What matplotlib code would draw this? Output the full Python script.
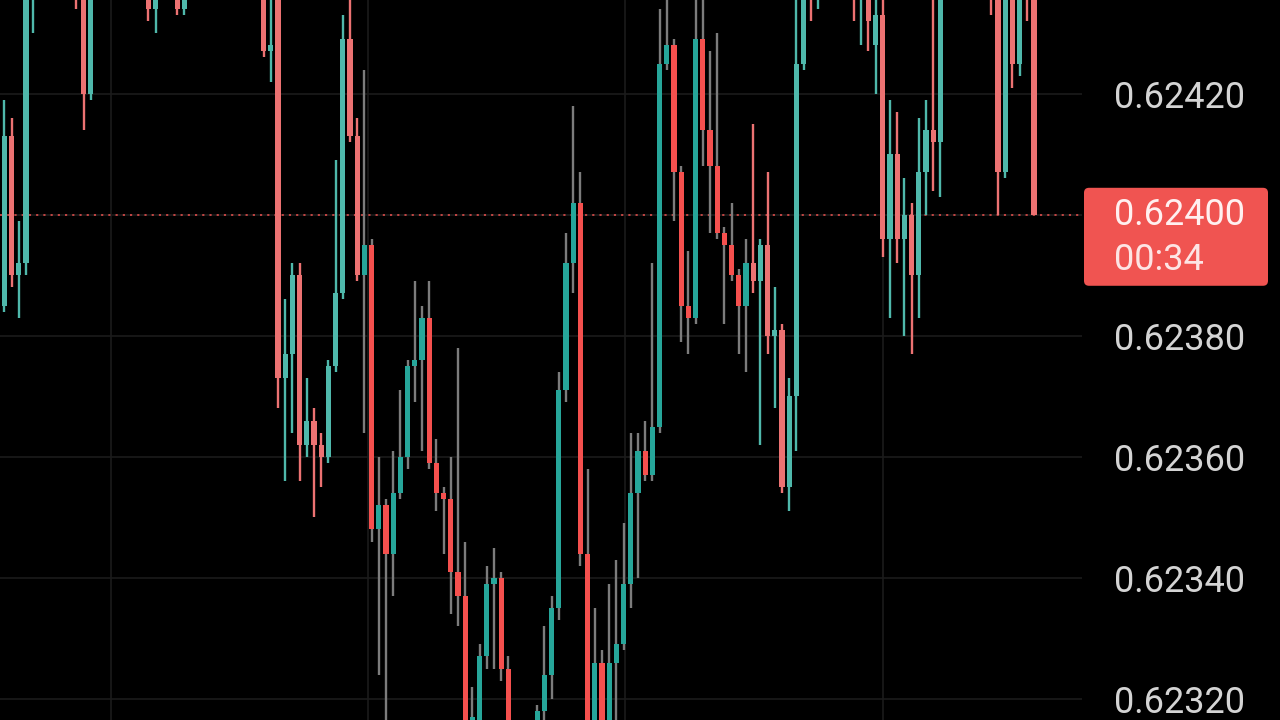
import numpy as np
import matplotlib
matplotlib.use('Agg')
import matplotlib.pyplot as plt
from matplotlib.patches import FancyBboxPatch
from matplotlib.transforms import IdentityTransform, offset_copy
from matplotlib.ticker import FixedLocator, FuncFormatter

plt.rcParams['font.family'] = ['Roboto', 'DejaVu Sans']

# OHLC of the candles (left to right)
opens = [
    0.62385, 0.62413, 0.62390, 0.62392, 0.62442, 0.62448, 0.62455, 0.62452, 0.62458, 0.62450,
    0.62444, 0.62438, 0.62420, 0.62445, 0.62452, 0.62460, 0.62456, 0.62462, 0.62455, 0.62450,
    0.62446, 0.62434, 0.62444, 0.62450, 0.62445, 0.62434, 0.62446, 0.62454, 0.62460, 0.62466,
    0.62461, 0.62467, 0.62462, 0.62456, 0.62460, 0.62452, 0.62446, 0.62427, 0.62440, 0.62373,
    0.62377, 0.62390, 0.62362, 0.62366, 0.62362, 0.62360, 0.62375, 0.62387, 0.62429, 0.62413,
    0.62390, 0.62395, 0.62348, 0.62352, 0.62344, 0.62354, 0.62360, 0.62375, 0.62376, 0.62383,
    0.62359, 0.62354, 0.62353, 0.62341, 0.62337, 0.62310, 0.62314, 0.62327, 0.62339, 0.62340,
    0.62325, 0.62305, 0.62298, 0.62303, 0.62310, 0.62318, 0.62324, 0.62335, 0.62371, 0.62392,
    0.62402, 0.62344, 0.62312, 0.62326, 0.62312, 0.62326, 0.62329, 0.62339, 0.62354, 0.62361,
    0.62357, 0.62365, 0.62425, 0.62428, 0.62407, 0.62385, 0.62383, 0.62429, 0.62414, 0.62408,
    0.62397, 0.62395, 0.62390, 0.62385, 0.62392, 0.62389, 0.62395, 0.62380, 0.62381, 0.62355,
    0.62370, 0.62425, 0.62442, 0.62436, 0.62444, 0.62451, 0.62447, 0.62453, 0.62446, 0.62438,
    0.62446, 0.62428, 0.62433, 0.62396, 0.62410, 0.62396, 0.62400, 0.62390, 0.62407, 0.62414,
    0.62412, 0.62440, 0.62447, 0.62453, 0.62449, 0.62455, 0.62450, 0.62445, 0.62438, 0.62407,
    0.62440, 0.62425, 0.62441, 0.62440,
]
highs = [
    0.62419, 0.62416, 0.62399, 0.62446, 0.62452, 0.62458, 0.62460, 0.62462, 0.62461, 0.62452,
    0.62446, 0.62440, 0.62448, 0.62455, 0.62463, 0.62465, 0.62466, 0.62464, 0.62458, 0.62452,
    0.62448, 0.62447, 0.62453, 0.62452, 0.62447, 0.62450, 0.62457, 0.62464, 0.62470, 0.62468,
    0.62471, 0.62469, 0.62464, 0.62463, 0.62462, 0.62455, 0.62448, 0.62438, 0.62446, 0.62386,
    0.62392, 0.62392, 0.62373, 0.62368, 0.62364, 0.62376, 0.62409, 0.62433, 0.62440, 0.62416,
    0.62424, 0.62396, 0.62360, 0.62353, 0.62361, 0.62371, 0.62376, 0.62389, 0.62385, 0.62389,
    0.62363, 0.62355, 0.62360, 0.62378, 0.62346, 0.62322, 0.62329, 0.62342, 0.62345, 0.62341,
    0.62327, 0.62310, 0.62308, 0.62314, 0.62319, 0.62332, 0.62337, 0.62374, 0.62397, 0.62418,
    0.62407, 0.62358, 0.62335, 0.62328, 0.62339, 0.62343, 0.62349, 0.62364, 0.62364, 0.62366,
    0.62392, 0.62434, 0.62437, 0.62429, 0.62408, 0.62394, 0.62436, 0.62438, 0.62427, 0.62430,
    0.62398, 0.62402, 0.62391, 0.62396, 0.62415, 0.62396, 0.62407, 0.62388, 0.62382, 0.62373,
    0.62437, 0.62446, 0.62445, 0.62448, 0.62455, 0.62454, 0.62456, 0.62455, 0.62448, 0.62449,
    0.62448, 0.62440, 0.62440, 0.62419, 0.62417, 0.62406, 0.62402, 0.62416, 0.62419, 0.62440,
    0.62445, 0.62450, 0.62457, 0.62456, 0.62459, 0.62457, 0.62452, 0.62447, 0.62440, 0.62444,
    0.62443, 0.62445, 0.62444, 0.62442,
]
lows = [
    0.62384, 0.62388, 0.62383, 0.62390, 0.62430, 0.62445, 0.62448, 0.62449, 0.62446, 0.62440,
    0.62434, 0.62414, 0.62419, 0.62442, 0.62449, 0.62453, 0.62452, 0.62451, 0.62446, 0.62441,
    0.62432, 0.62430, 0.62440, 0.62441, 0.62433, 0.62433, 0.62443, 0.62451, 0.62457, 0.62457,
    0.62458, 0.62458, 0.62452, 0.62452, 0.62448, 0.62442, 0.62426, 0.62422, 0.62368, 0.62356,
    0.62364, 0.62356, 0.62360, 0.62350, 0.62355, 0.62359, 0.62374, 0.62386, 0.62412, 0.62389,
    0.62364, 0.62346, 0.62324, 0.62310, 0.62337, 0.62353, 0.62358, 0.62369, 0.62361, 0.62358,
    0.62351, 0.62344, 0.62334, 0.62332, 0.62305, 0.62300, 0.62310, 0.62325, 0.62325, 0.62323,
    0.62300, 0.62293, 0.62290, 0.62298, 0.62304, 0.62312, 0.62320, 0.62333, 0.62369, 0.62387,
    0.62342, 0.62305, 0.62305, 0.62308, 0.62308, 0.62315, 0.62328, 0.62335, 0.62340, 0.62356,
    0.62356, 0.62364, 0.62424, 0.62399, 0.62379, 0.62377, 0.62382, 0.62408, 0.62397, 0.62396,
    0.62382, 0.62389, 0.62377, 0.62374, 0.62387, 0.62362, 0.62377, 0.62368, 0.62354, 0.62351,
    0.62361, 0.62424, 0.62432, 0.62434, 0.62441, 0.62443, 0.62444, 0.62442, 0.62432, 0.62428,
    0.62427, 0.62420, 0.62393, 0.62383, 0.62392, 0.62380, 0.62377, 0.62383, 0.62400, 0.62404,
    0.62403, 0.62437, 0.62444, 0.62445, 0.62446, 0.62446, 0.62440, 0.62433, 0.62400, 0.62406,
    0.62421, 0.62423, 0.62432, 0.62400,
]
closes = [
    0.62413, 0.62390, 0.62392, 0.62442, 0.62448, 0.62455, 0.62452, 0.62458, 0.62450, 0.62444,
    0.62438, 0.62420, 0.62445, 0.62452, 0.62460, 0.62456, 0.62462, 0.62455, 0.62450, 0.62446,
    0.62434, 0.62444, 0.62450, 0.62445, 0.62434, 0.62446, 0.62454, 0.62460, 0.62466, 0.62461,
    0.62467, 0.62462, 0.62456, 0.62460, 0.62452, 0.62446, 0.62427, 0.62428, 0.62373, 0.62377,
    0.62390, 0.62362, 0.62366, 0.62362, 0.62360, 0.62375, 0.62387, 0.62429, 0.62413, 0.62390,
    0.62395, 0.62348, 0.62352, 0.62344, 0.62354, 0.62360, 0.62375, 0.62376, 0.62383, 0.62359,
    0.62354, 0.62353, 0.62341, 0.62337, 0.62310, 0.62317, 0.62327, 0.62339, 0.62340, 0.62325,
    0.62305, 0.62298, 0.62303, 0.62310, 0.62318, 0.62324, 0.62335, 0.62371, 0.62392, 0.62402,
    0.62344, 0.62310, 0.62326, 0.62312, 0.62326, 0.62329, 0.62339, 0.62354, 0.62361, 0.62357,
    0.62365, 0.62425, 0.62428, 0.62407, 0.62385, 0.62383, 0.62429, 0.62414, 0.62408, 0.62397,
    0.62395, 0.62390, 0.62385, 0.62392, 0.62389, 0.62395, 0.62380, 0.62381, 0.62355, 0.62370,
    0.62425, 0.62442, 0.62436, 0.62444, 0.62451, 0.62447, 0.62453, 0.62446, 0.62438, 0.62446,
    0.62432, 0.62433, 0.62396, 0.62410, 0.62396, 0.62400, 0.62390, 0.62407, 0.62414, 0.62412,
    0.62440, 0.62447, 0.62453, 0.62449, 0.62455, 0.62450, 0.62445, 0.62438, 0.62407, 0.62440,
    0.62425, 0.62441, 0.62436, 0.62400,
]

price_ticks = [0.62320, 0.62340, 0.62360, 0.62380, 0.62400, 0.62420]
countdown = '00:34'

UP = '#26a69a'
DOWN = '#f5504e'
GHOST_UP = '#4fb8ab'
GHOST_DOWN = '#ec7272'
GRID = '#1b1b1b'
LABEL = '#d4d4d4'
FS = 26

o = np.array(opens)
h = np.array(highs)
l = np.array(lows)
c = np.array(closes)
x = np.arange(len(o))
up = c >= o

# middle of the screen is sharp with grey wicks, the edges look smeared
sharp = (x >= 50) & (x <= 103)
body_col = np.where(up, np.where(sharp, UP, GHOST_UP), np.where(sharp, DOWN, GHOST_DOWN))
wick_col = np.where(sharp, '#7c7c7c', body_col)

fig = plt.figure(figsize=(12.8, 7.2), dpi=100, facecolor='black')
ax = fig.add_axes([0, 0, 1082 / 1280, 1])
ax.set_facecolor('black')

ax.set_ylim(0.623165, 0.624355)
ax.set_xlim(-0.61, 149.67)

ax.vlines(x, l, h, colors=wick_col, linewidth=1.7, zorder=2)
ax.bar(x, np.maximum(np.abs(c - o), 2e-6), bottom=np.minimum(o, c), width=0.72,
       color=body_col, linewidth=0, zorder=3)

# last price line
last = closes[-1]
ax.axhline(last, color='#f05350', linewidth=1.3, linestyle=(0, (1.2, 2.8)), alpha=0.85, zorder=1)

# grid + right price scale (the last price label is hidden under the badge)
ax.yaxis.set_major_locator(FixedLocator(price_ticks))
ax.yaxis.set_major_formatter(FuncFormatter(lambda v, p: '' if abs(v - last) < 1e-7 else '%.5f' % v))
ax.xaxis.set_major_locator(FixedLocator([14.8, 50.5, 86.2, 122.0]))
ax.grid(True, color=GRID, linewidth=1.2, zorder=0)
ax.set_axisbelow(True)
for s in ax.spines.values():
    s.set_visible(False)
ax.tick_params(axis='x', bottom=False, labelbottom=False)
ax.yaxis.tick_right()
ax.tick_params(axis='y', length=0, pad=23, labelsize=FS, labelcolor=LABEL)

# current price badge
fig.canvas.draw()
ydisp = ax.transData.transform((0, last))[1]
x_edge = ax.transAxes.transform((1, 0))[0]
badge = FancyBboxPatch((x_edge + 2, ydisp - 71), 184, 98,
                       boxstyle='round,pad=0,rounding_size=5',
                       transform=IdentityTransform(), facecolor='#f05451',
                       edgecolor='none', zorder=5)
fig.add_artist(badge)
tr = ax.get_yaxis_transform()
tx = 1 + 32 / 1082
fig.text(tx, last, '%.5f' % last, transform=tr, fontsize=FS, color='#fff0f0',
         va='center', ha='left', zorder=6)
fig.text(tx, last, countdown, transform=offset_copy(tr, fig=fig, y=-45, units='dots'),
         fontsize=FS, color='#fde4e4', va='center', ha='left', zorder=6)

fig.savefig('out.png', dpi=100, facecolor='black')
